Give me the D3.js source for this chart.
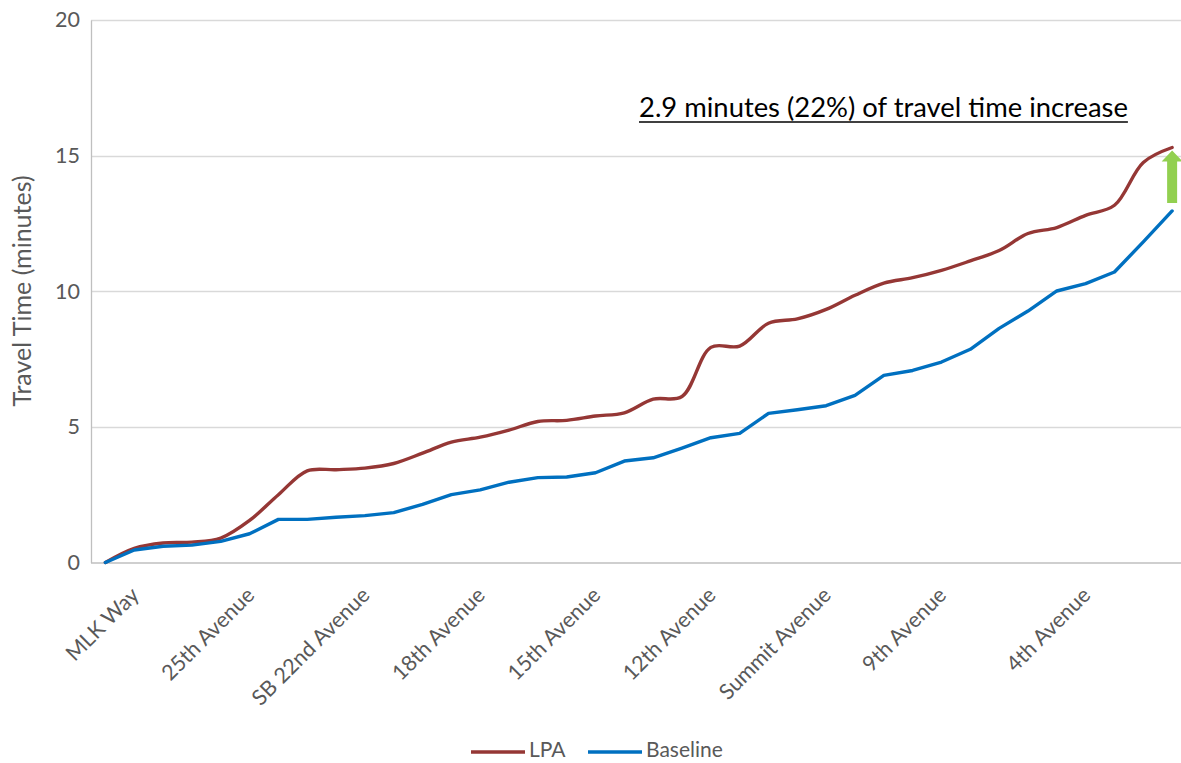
<!DOCTYPE html>
<html>
<head>
<meta charset="utf-8">
<script src="https://cdn.jsdelivr.net/npm/d3@7"></script>
<style>
  html, body { margin: 0; padding: 0; background: #fff; }
  svg { display: block; }
  text { font-family: "Lato", "Open Sans", sans-serif; }
</style>
</head>
<body>
<svg id="chart" width="1181" height="763"></svg>
<script>
// Stop names along the corridor (blank entries are intermediate timing points)
const stops = [
  "MLK Way", "", "", "", "25th Avenue", "", "", "", "SB 22nd Avenue", "", "", "",
  "18th Avenue", "", "", "", "15th Avenue", "", "", "", "12th Avenue", "", "", "",
  "Summit Avenue", "", "", "", "9th Avenue", "", "", "", "", "4th Avenue", "", "", "", ""
];

// Cumulative travel time (minutes)
const lpa = [
  0, 0.52, 0.72, 0.75, 0.9, 1.55, 2.5, 3.38, 3.42, 3.48,
  3.65, 4.03, 4.44, 4.62, 4.88, 5.2, 5.24, 5.4, 5.52, 6.02,
  6.12, 7.93, 7.98, 8.82, 8.98, 9.33, 9.85, 10.3, 10.5, 10.77,
  11.12, 11.5, 12.13, 12.35, 12.8, 13.17, 14.75, 15.3
];
const baseline = [
  0, 0.46, 0.6, 0.64, 0.78, 1.06, 1.59, 1.59, 1.67, 1.73,
  1.84, 2.14, 2.5, 2.68, 2.96, 3.13, 3.15, 3.31, 3.74, 3.86,
  4.22, 4.6, 4.76, 5.5, 5.63, 5.78, 6.16, 6.9, 7.08, 7.39,
  7.86, 8.63, 9.27, 10.01, 10.28, 10.71, 11.82, 12.96
];
const yTicks = [0, 5, 10, 15, 20];

const seriesNames = ["LPA", "Baseline"];
const seriesColors = ["#953735", "#0070C0"];
const annotation = "2.9 minutes (22%) of travel time increase";

const svg = d3.select("#chart");
const plotLeft = 91, plotBottom = 562.5, plotTop = 20;
const band = 28.83;

const x = d3.scaleBand()
  .domain(d3.range(stops.length))
  .range([plotLeft, plotLeft + band * stops.length])
  .paddingInner(0).paddingOuter(0);
const cx = i => x(i) + x.bandwidth() / 2;

const y = d3.scaleLinear().domain([0, 20]).range([plotBottom, plotTop]);

const grey = "#595959";

// Horizontal gridlines
svg.append("g")
  .selectAll("line")
  .data(yTicks.filter(t => t > 0))
  .join("line")
  .attr("x1", plotLeft).attr("x2", 1181)
  .attr("y1", d => Math.round(y(d)) + 0.5).attr("y2", d => Math.round(y(d)) + 0.5)
  .attr("stroke", "#D9D9D9").attr("stroke-width", 1.3);

// Y axis
const yAxis = svg.append("g")
  .attr("transform", `translate(${plotLeft},0)`)
  .call(d3.axisLeft(y).tickValues(yTicks).tickSize(0).tickPadding(11));
yAxis.select(".domain").attr("stroke", "#BFBFBF").attr("stroke-width", 1.3);
yAxis.selectAll("text")
  .attr("fill", grey).style("font-size", "21.5px")
  .style("font-family", "Lato, 'Open Sans', sans-serif");

// X axis
const xAxis = svg.append("g")
  .attr("transform", `translate(0,${plotBottom})`)
  .call(d3.axisBottom(x).tickSize(0).tickFormat(i => stops[i]));
xAxis.select(".domain").attr("d", `M${plotLeft},0.5H1181`).attr("stroke", "#BFBFBF").attr("stroke-width", 1.3);
xAxis.selectAll(".tick text")
  .attr("fill", grey).style("font-size", "21.5px")
  .style("font-family", "Lato, 'Open Sans', sans-serif")
  .attr("text-anchor", "end")
  .attr("dy", null).attr("y", 0)
  .attr("transform", "translate(35,34) rotate(-45)");

// Axis title
svg.append("text")
  .attr("transform", "translate(31,291) rotate(-90)")
  .attr("text-anchor", "middle")
  .attr("fill", grey).style("font-size", "25px")
  .text("Travel Time (minutes)");

// Lines
const lpaLine = d3.line()
  .x((d, i) => cx(i)).y(d => y(d))
  .curve(d3.curveCatmullRom.alpha(0.5));
const baseLine = d3.line()
  .x((d, i) => cx(i)).y(d => y(d));

svg.append("path").datum(lpa)
  .attr("d", lpaLine).attr("fill", "none")
  .attr("stroke", seriesColors[0]).attr("stroke-width", 3.4)
  .attr("stroke-linejoin", "round").attr("stroke-linecap", "round");
svg.append("path").datum(baseline)
  .attr("d", baseLine).attr("fill", "none")
  .attr("stroke", seriesColors[1]).attr("stroke-width", 3.4)
  .attr("stroke-linejoin", "round").attr("stroke-linecap", "round");

// Green arrow marking the gap at the last stop
const last = stops.length - 1;
const ax = cx(last);
const aTop = y(lpa[last]) + 3, aBottom = y(baseline[last]) - 8;
const headH = 11, headW = 10.5, shaftW = 5;
svg.append("path")
  .attr("d", `M${ax},${aTop} L${ax + headW},${aTop + headH} L${ax + shaftW},${aTop + headH}
              L${ax + shaftW},${aBottom} L${ax - shaftW},${aBottom} L${ax - shaftW},${aTop + headH}
              L${ax - headW},${aTop + headH} Z`)
  .attr("fill", "#92D050");

// Annotation
const ann = svg.append("text")
  .attr("x", 639).attr("y", 117)
  .attr("fill", "#000").style("font-size", "27.4px")
  .style("font-family", "Lato, 'Open Sans', sans-serif")
  .text(annotation);
const bb = ann.node().getBBox();
svg.append("line")
  .attr("x1", bb.x).attr("x2", bb.x + bb.width)
  .attr("y1", 122).attr("y2", 122)
  .attr("stroke", "#000").attr("stroke-width", 1.6);

// Legend
const legend = svg.append("g");
const legendItems = [
  { name: seriesNames[0], color: seriesColors[0], x: 471 },
  { name: seriesNames[1], color: seriesColors[1], x: 588 }
];
legendItems.forEach(it => {
  legend.append("line")
    .attr("x1", it.x).attr("x2", it.x + 54)
    .attr("y1", 752).attr("y2", 752)
    .attr("stroke", it.color).attr("stroke-width", 3.4);
  legend.append("text")
    .attr("x", it.x + 58).attr("y", 757)
    .attr("fill", grey).style("font-size", "21px")
    .text(it.name);
});
</script>
</body>
</html>
